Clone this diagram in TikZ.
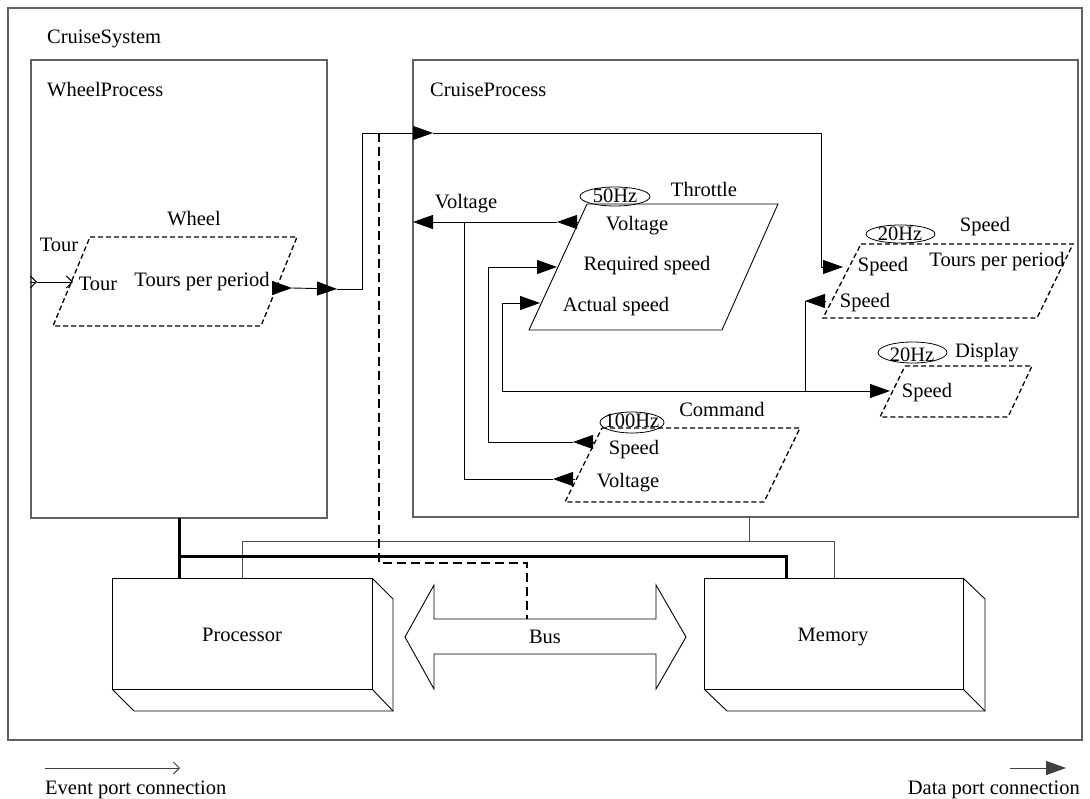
\documentclass[tikz,border=0pt]{standalone}
\usepackage{fontspec}
\setmainfont{Liberation Serif}
\usetikzlibrary{arrows.meta,shapes.geometric}
\begin{document}
\begin{tikzpicture}[x=1pt,y=-1pt,
  box/.style={draw=black!62,line width=1.2pt},
  lbl/.style={inner sep=0pt,font=\fontsize{20.5}{24}\selectfont},
  conn/.style={draw=black,line width=0.9pt},
  dtip/.style={conn,-{Triangle[length=20pt,width=14pt]}},
  etip/.style={conn,-{Straight Barb[length=6pt,width=12pt]}},
  procs/.style={draw=black,line width=0.9pt},
  dprocs/.style={draw=black,line width=1.3pt,dash pattern=on 5pt off 3pt},
  hw/.style={draw=black,line width=0.9pt},
  bindthick/.style={draw=black,line width=3pt},
  bindthin/.style={draw=black!70,line width=1pt},
  busline/.style={draw=black,line width=1.8pt,dash pattern=on 9pt off 5pt},
  hz/.style={draw=black,line width=0.8pt},
]
\fill[white] (0,0) rectangle (1090,799);
\useasboundingbox (0,0) rectangle (1090,799);

% ---- containers
\coordinate (sysA) at (8,8);   \coordinate (sysB) at (1082,740);
\draw[box] (sysA) rectangle (sysB);
\node[lbl,anchor=base west] (sysL) at (47,44) {CruiseSystem};

\coordinate (wpA) at (31,60);  \coordinate (wpB) at (327,518);
\draw[box] (wpA) rectangle (wpB);
\node[lbl,anchor=base west] (wpL) at (47,97) {WheelProcess};

\coordinate (cpA) at (413,60); \coordinate (cpB) at (1078,517);
\draw[box] (cpA) rectangle (cpB);
\node[lbl,anchor=base west] (cpL) at (430,97) {CruiseProcess};

% ---- Wheel thread
\draw[dprocs] (90,237) -- (297,237) -- (261,326) -- (53,326) -- cycle;
\node[lbl,anchor=base] (wheelL) at (194,226) {Wheel};
\node[lbl,anchor=base] (tourOut) at (59,252) {Tour};
\node[lbl,anchor=base] (tourIn) at (98,291) {Tour};
\node[lbl,anchor=base] (wTpp) at (202,287) {Tours per period};

% ---- Throttle thread
\draw[procs] (587,204) -- (778,204) -- (722,330) -- (529,330) -- cycle;
\node[lbl,anchor=base] (hz50) at (615,203) {50Hz};
\draw[hz] (615,196.5) ellipse [x radius=35, y radius=9.5];
\node[lbl,anchor=base] (thrL) at (704,197) {Throttle};
\node[lbl,anchor=base] (thrV) at (637,231) {Voltage};
\node[lbl,anchor=base] (thrR) at (647,271) {Required speed};
\node[lbl,anchor=base] (thrA) at (616,312) {Actual speed};
\node[lbl,anchor=base] (cpV) at (466,209) {Voltage};

% ---- Speed thread
\draw[dprocs] (861,244) -- (1073,244) -- (1037,318) -- (823,318) -- cycle;
\node[lbl,anchor=base] (hz20a) at (900,241) {20Hz};
\draw[hz] (900.5,234) ellipse [x radius=34.5, y radius=9];
\node[lbl,anchor=base] (spL) at (985,232) {Speed};
\node[lbl,anchor=base] (spIn) at (883,272) {Speed};
\node[lbl,anchor=base] (spTpp) at (997,267) {Tours per period};
\node[lbl,anchor=base] (spOut) at (865,308) {Speed};

% ---- Display thread
\draw[dprocs] (905,366) -- (1032,366) -- (1008,417) -- (880,417) -- cycle;
\node[lbl,anchor=base] (hz20b) at (912,362) {20Hz};
\draw[hz] (912.5,352.5) ellipse [x radius=34.5, y radius=10.5];
\node[lbl,anchor=base] (dispL) at (987,358) {Display};
\node[lbl,anchor=base] (dispS) at (927,398) {Speed};

% ---- Command thread
\draw[dprocs] (602,428) -- (800,428) -- (764,502) -- (565,502) -- cycle;
\node[lbl,anchor=base] (hz100) at (632,428) {100Hz};
\draw[hz] (632,422.5) ellipse [x radius=32, y radius=10.5];
\node[lbl,anchor=base] (cmdL) at (722,417) {Command};
\node[lbl,anchor=base] (cmdS) at (634,454) {Speed};
\node[lbl,anchor=base] (cmdV) at (628,487) {Voltage};

% ---- port coordinates
\coordinate (evA) at (30,282);  \coordinate (evB) at (37,282);  \coordinate (evC) at (73,282);
\coordinate (wO1) at (272,288); \coordinate (wO2) at (292,288);
\coordinate (wpO) at (337,289); \coordinate (cpI) at (433,133);
\coordinate (spI) at (843,267);
\coordinate (thV1) at (577,222); \coordinate (thV2) at (557,222);
\coordinate (cpVo) at (413,222);
\coordinate (cmV1) at (575,479); \coordinate (cmV2) at (553,479);
\coordinate (cmS1) at (595,442); \coordinate (cmS2) at (573,442);
\coordinate (thR) at (557,267);
\coordinate (thA) at (540,303);
\coordinate (spO1) at (825,301); \coordinate (spO2) at (805,301);
\coordinate (dsI) at (890,391);

% ---- event connection
\draw[etip] (evA) -- (evB);
\draw[etip] (evB) -- (evC);

% ---- data connections
\draw[dtip] (wO1) -- (wO2);
\draw[dtip] (wO2) -- (wpO);
\draw[dtip] (wpO) -| (362,133) -- (cpI);
\draw[dtip] (cpI) -| (821,267) -- (spI);

\draw[dtip] (thV1) -- (thV2);
\draw[dtip] (thV2) -- (cpVo);
\draw[dtip] (cmV1) -- (cmV2);
\draw[conn] (cmV2) -| (464,222);

\draw[dtip] (cmS1) -- (cmS2);
\draw[dtip] (cmS2) -| (488,267) -- (thR);

\draw[dtip] (spO1) -- (spO2);
\draw[dtip] (spO2) |- (502,391) |- (thA);
\draw[dtip] (spO2 |- dsI) -- (dsI);

% ---- hardware
\draw[hw] (112,578) rectangle (372,689);
\draw[hw] (372,578) -- (393,599) -- (393,711) -- (134,711) -- (112,689);
\draw[hw] (372,689) -- (393,711);
\node[lbl,anchor=base] (procL) at (242,641) {Processor};

\draw[hw] (704,578) rectangle (963,689);
\draw[hw] (963,578) -- (985,599) -- (985,711) -- (727,711) -- (704,689);
\draw[hw] (963,689) -- (985,711);
\node[lbl,anchor=base] (memL) at (833,641) {Memory};

\draw[hw] (405,637) -- (434,585) -- (434,619) -- (656,619) -- (656,585) -- (686,637)
  -- (656,689) -- (656,654) -- (434,654) -- (434,689) -- cycle;
\node[lbl,anchor=base] (busL) at (545,643) {Bus};

% ---- bindings
\draw[bindthin] (749,517) -- (749,541);
\draw[bindthin] (242,578) |- (834,541) -- (834,578);
\draw[bindthick] (179,518) -- (179,578);
\draw[bindthick] (179,556) -| (786,579);
\draw[busline] (379,133) |- (527,563) -- (527,619);

% ---- legend
\coordinate (lgE1) at (45,768); \coordinate (lgE2) at (180,768);
\draw[etip,draw=black!75] (lgE1) -- (lgE2);
\node[lbl,anchor=base west] (lgEL) at (45,794) {Event port connection};
\coordinate (lgD1) at (1010,768); \coordinate (lgD2) at (1066,768);
\draw[dtip,draw=black!75] (lgD1) -- (lgD2);
\node[lbl,anchor=base east] (lgDL) at (1080,794) {Data port connection};
\end{tikzpicture}
\end{document}
